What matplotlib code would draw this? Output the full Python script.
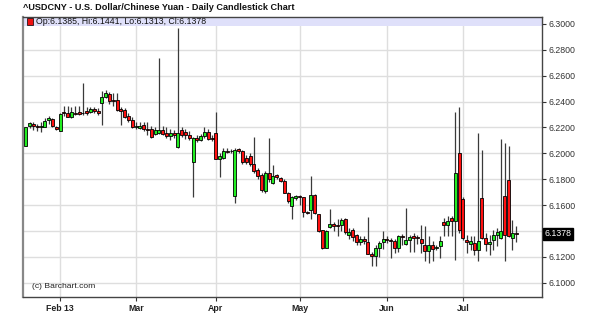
import matplotlib
matplotlib.use("Agg")
import matplotlib.pyplot as plt
import numpy as np
import pandas as pd
from matplotlib.patches import Rectangle

plt.rcParams['font.family'] = ['Liberation Sans', 'DejaVu Sans']

# ---------------- data ----------------
start_date = "2013-01-21"
opens = [6.2059, 6.2208, 6.2228, 6.2215, 6.2200, 6.2205, 6.2258, 6.2264, 6.2205, 6.2174,
         6.2318, 6.2310, 6.2285, 6.2315, 6.2318, 6.2310, 6.2325, 6.2320, 6.2340, 6.2330,
         6.2388, 6.2439, 6.2460, 6.2412, 6.2410, 6.2340, 6.2335, 6.2290, 6.2259, 6.2205,
         6.2195, 6.2220, 6.2190, 6.2187, 6.2150, 6.2160, 6.2180, 6.2160, 6.2131, 6.2156,
         6.2048, 6.2180, 6.2165, 6.2140, 6.1930, 6.2118, 6.2105, 6.2131, 6.2165, 6.2120,
         6.2161, 6.1958, 6.1964, 6.2018, 6.2015, 6.1673, 6.2030, 6.2015, 6.1963, 6.1976,
         6.1920, 6.1874, 6.1835, 6.1707, 6.1848, 6.1770, 6.1832, 6.1812, 6.1788, 6.1696,
         6.1592, 6.1652, 6.1670, 6.1659, 6.1548, 6.1561, 6.1678, 6.1530, 6.1407, 6.1270,
         6.1432, 6.1458, 6.1450, 6.1445, 6.1490, 6.1368, 6.1407, 6.1368, 6.1316, 6.1342,
         6.1316, 6.1226, 6.1205, 6.1272, 6.1316, 6.1337, 6.1334, 6.1324, 6.1272, 6.1365,
         6.1303, 6.1334, 6.1365, 6.1350, 6.1342, 6.1295, 6.1244, 6.1295, 6.1265, 6.1288,
         6.1470, 6.1450, 6.1501, 6.1475, 6.2002, 6.1647, 6.1334, 6.1300, 6.1308, 6.1252,
         6.1655, 6.1347, 6.1300, 6.1334, 6.1370, 6.1347, 6.1668, 6.1797, 6.1347, 6.1385]
highs = [6.2205, 6.2245, 6.2240, 6.2228, 6.2245, 6.2270, 6.2290, 6.2270, 6.2215, 6.2311,
         6.2370, 6.2365, 6.2360, 6.2370, 6.2370, 6.2547, 6.2362, 6.2360, 6.2362, 6.2350,
         6.2480, 6.2490, 6.2475, 6.2470, 6.2470, 6.2360, 6.2350, 6.2310, 6.2285, 6.2240,
         6.2245, 6.2245, 6.2240, 6.2208, 6.2200, 6.2740, 6.2210, 6.2200, 6.2190, 6.2180,
         6.2970, 6.2200, 6.2190, 6.2170, 6.2130, 6.2140, 6.2150, 6.2200, 6.2190, 6.2140,
         6.2316, 6.2000, 6.2040, 6.2040, 6.2035, 6.2040, 6.2045, 6.2025, 6.1990, 6.2000,
         6.2125, 6.1890, 6.1850, 6.1860, 6.2115, 6.1910, 6.1840, 6.1820, 6.1800, 6.1705,
         6.1670, 6.1680, 6.1675, 6.1665, 6.1555, 6.1825, 6.1685, 6.1535, 6.1410, 6.1405,
         6.1569, 6.1470, 6.1490, 6.1500, 6.1500, 6.1420, 6.1420, 6.1380, 6.1360, 6.1360,
         6.1505, 6.1240, 6.1290, 6.1320, 6.1400, 6.1360, 6.1345, 6.1340, 6.1370, 6.1380,
         6.1578, 6.1370, 6.1385, 6.1370, 6.1450, 6.1437, 6.1360, 6.1321, 6.1290, 6.1360,
         6.1501, 6.1514, 6.1514, 6.2316, 6.2362, 6.1660, 6.1372, 6.1360, 6.1360, 6.2156,
         6.2028, 6.1385, 6.1372, 6.1411, 6.1424, 6.2110, 6.2079, 6.2054, 6.1488, 6.1441]
lows = [6.2055, 6.2195, 6.2180, 6.2175, 6.2168, 6.2200, 6.2225, 6.2200, 6.2180, 6.2170,
        6.2290, 6.2280, 6.2275, 6.2295, 6.2295, 6.2300, 6.2300, 6.2310, 6.2310, 6.2300,
        6.2220, 6.2430, 6.2385, 6.2370, 6.2330, 6.2220, 6.2270, 6.2245, 6.2195, 6.2190,
        6.2185, 6.2175, 6.2140, 6.2118, 6.2140, 6.2150, 6.2140, 6.2120, 6.2100, 6.2120,
        6.2045, 6.2130, 6.2110, 6.2100, 6.1665, 6.2090, 6.2095, 6.2120, 6.2100, 6.2095,
        6.1955, 6.1820, 6.1960, 6.2000, 6.2005, 6.1617, 6.2000, 6.1920, 6.1915, 6.1900,
        6.1850, 6.1800, 6.1700, 6.1690, 6.1780, 6.1760, 6.1805, 6.1780, 6.1690, 6.1620,
        6.1489, 6.1640, 6.1600, 6.1505, 6.1530, 6.1489, 6.1530, 6.1395, 6.1260, 6.1265,
        6.1420, 6.1400, 6.1360, 6.1400, 6.1380, 6.1340, 6.1320, 6.1290, 6.1290, 6.1300,
        6.1220, 6.1130, 6.1130, 6.1200, 6.1260, 6.1310, 6.1190, 6.1230, 6.1240, 6.1290,
        6.1290, 6.1236, 6.1236, 6.1300, 6.1231, 6.1170, 6.1154, 6.1167, 6.1250, 6.1193,
        6.1360, 6.1360, 6.1360, 6.1175, 6.1385, 6.1334, 6.1231, 6.1250, 6.1218, 6.1167,
        6.1340, 6.1244, 6.1218, 6.1257, 6.1283, 6.1340, 6.1167, 6.1350, 6.1257, 6.1313]
closes = [6.2200, 6.2233, 6.2213, 6.2205, 6.2212, 6.2254, 6.2270, 6.2208, 6.2185, 6.2303,
          6.2310, 6.2285, 6.2318, 6.2305, 6.2305, 6.2315, 6.2315, 6.2345, 6.2330, 6.2315,
          6.2436, 6.2465, 6.2408, 6.2405, 6.2336, 6.2330, 6.2285, 6.2259, 6.2200, 6.2215,
          6.2215, 6.2185, 6.2180, 6.2123, 6.2180, 6.2182, 6.2150, 6.2135, 6.2156, 6.2145,
          6.2156, 6.2140, 6.2145, 6.2120, 6.2118, 6.2105, 6.2131, 6.2169, 6.2110, 6.2110,
          6.1958, 6.1976, 6.2015, 6.2012, 6.2020, 6.2028, 6.2022, 6.1930, 6.1930, 6.1920,
          6.1861, 6.1827, 6.1720, 6.1848, 6.1802, 6.1828, 6.1814, 6.1788, 6.1696, 6.1631,
          6.1659, 6.1670, 6.1660, 6.1548, 6.1541, 6.1678, 6.1541, 6.1401, 6.1270, 6.1401,
          6.1458, 6.1438, 6.1438, 6.1484, 6.1394, 6.1394, 6.1355, 6.1316, 6.1342, 6.1320,
          6.1226, 6.1205, 6.1272, 6.1309, 6.1342, 6.1330, 6.1324, 6.1272, 6.1360, 6.1352,
          6.1329, 6.1354, 6.1347, 6.1345, 6.1308, 6.1249, 6.1295, 6.1262, 6.1275, 6.1326,
          6.1444, 6.1475, 6.1475, 6.1848, 6.1411, 6.1347, 6.1313, 6.1320, 6.1252, 6.1321,
          6.1347, 6.1303, 6.1316, 6.1367, 6.1390, 6.1398, 6.1367, 6.1360, 6.1385, 6.1378]

month_labels = ["Feb 13", "Mar", "Apr", "May", "Jun", "Jul"]
y_ticks = [6.10, 6.12, 6.14, 6.16, 6.18, 6.20, 6.22, 6.24, 6.26, 6.28, 6.30]

title = "^USDCNY - U.S. Dollar/Chinese Yuan - Daily Candlestick Chart"
last_o, last_h, last_l, last_c = opens[-1], highs[-1], lows[-1], closes[-1]

# ---------------- figure ----------------
dates = pd.bdate_range(start_date, periods=len(opens))
x = np.arange(len(opens))
o = np.array(opens); h = np.array(highs); l = np.array(lows); c = np.array(closes)

fig = plt.figure(figsize=(6.0, 3.2), dpi=100)
ax = fig.add_axes([23/600, 1-297/320, (542-23)/600, (297-17)/320])
ax.set_xlim(-0.75, 135.8)
ax.set_ylim(6.0890, 6.3054)

# grid / ticks
month_pos = [i for i in range(1, len(dates)) if dates[i].month != dates[i-1].month]
ax.set_xticks(month_pos)
ax.set_xticklabels(month_labels[:len(month_pos)], fontweight='bold', fontsize=6.3, color='#222222')
ax.set_yticks(y_ticks)
# the last-price box covers the tick label nearest to it
ylabels = ["" if abs(v - last_c) < 0.006 else f"{v:.4f}" for v in y_ticks]
ax.set_yticklabels(ylabels, fontsize=6.3, color='#333333')
ax.yaxis.tick_right()
ax.tick_params(axis='y', direction='out', length=3, width=0.8, color='#333333', pad=1.5)
ax.tick_params(axis='x', direction='out', length=3, width=0.8, color='#333333', pad=2)
ax.grid(True, color='#dedede', linewidth=1.0, zorder=0)
ax.set_axisbelow(True)

# lavender band at top
ax.add_patch(Rectangle((0, 1 - 9/280), 1, 9/280, transform=ax.transAxes,
                       facecolor='#dfe0fa', edgecolor='none', zorder=1))

# wicks
ax.vlines(x, l, h, color='#3a3a3a', linewidth=0.9, zorder=2)
# bodies
up = c >= o
w = 0.8
ax.bar(x[up], (c - o)[up], bottom=o[up], width=w, color='#22ee22',
       edgecolor='black', linewidth=0.6, zorder=3)
ax.bar(x[~up], (o - c)[~up], bottom=c[~up], width=w, color='#ff1111',
       edgecolor='black', linewidth=0.6, zorder=3)

for s in ['top', 'right', 'bottom']:
    ax.spines[s].set_color('#444444')
    ax.spines[s].set_linewidth(1.0)
ax.spines['left'].set_color('#888888')
ax.spines['left'].set_linewidth(1.6)

# legend text in band
ax.add_patch(Rectangle((4/519, 1 - 7.5/280), 6/519, 6/280, transform=ax.transAxes,
                       facecolor='#ee1111', edgecolor='black', linewidth=0.5, zorder=4))
ax.text(13/519, 1 - 4.5/280, f"Op:{last_o:.4f}, Hi:{last_h:.4f}, Lo:{last_l:.4f}, Cl:{last_c:.4f}",
        transform=ax.transAxes, fontsize=6.3, color='#111111', va='center', ha='left', zorder=5)

ax.text(9/519, 10/280, "(c) Barchart.com", transform=ax.transAxes, fontsize=6.1,
        color='#222222', va='center', ha='left')

# last price box
ax.annotate(f"{last_c:.4f}", xy=(1, last_c), xycoords=('axes fraction', 'data'),
            xytext=(2, 0), textcoords='offset points', fontsize=6.3, color='white',
            va='center', ha='left',
            bbox=dict(boxstyle='square,pad=0.15', facecolor='black', edgecolor='black'),
            zorder=6, annotation_clip=False)

fig.text(23/600, 1 - 8/320, title, fontsize=6.6, fontweight='bold', color='#111111',
         ha='left', va='center')

fig.savefig("out.png", dpi=100, facecolor='white')
